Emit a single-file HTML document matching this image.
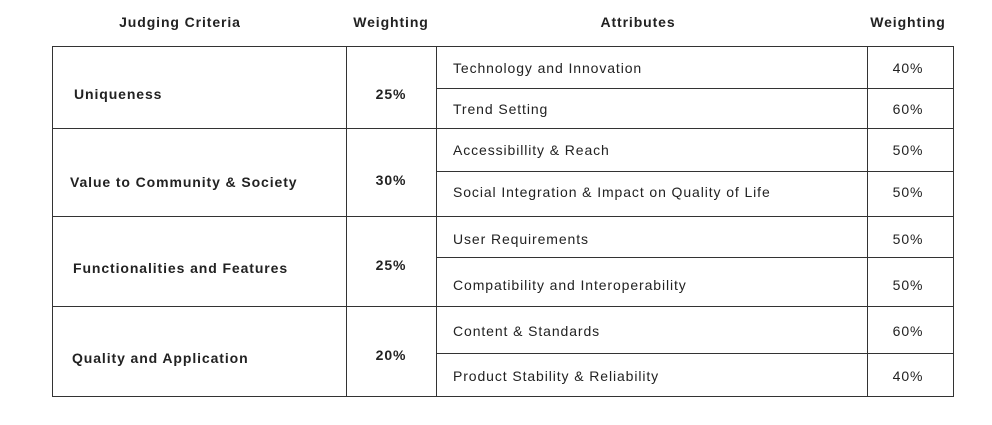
<!DOCTYPE html>
<html><head><meta charset="utf-8"><style>
body{margin:0;width:992px;height:425px;background:#fff;position:relative;overflow:hidden;font-family:"Liberation Sans",sans-serif;color:#222;}
.t{position:absolute;font-size:14px;letter-spacing:0.9px;line-height:16px;white-space:nowrap;transform:translateY(-50%);}
.b{font-weight:bold;}
.c{transform:translate(-50%,-50%);}
.h{position:absolute;height:1px;background:#333;}
.v{position:absolute;width:1px;background:#333;}
</style></head><body>
<div class="t b c" style="left:180px;top:22px">Judging Criteria</div>
<div class="t b c" style="left:391px;top:22px">Weighting</div>
<div class="t b c" style="left:638px;top:22px">Attributes</div>
<div class="t b c" style="left:908px;top:22px">Weighting</div>

<div>
<div class="h" style="left:52px;width:902px;top:46px"></div>
<div class="h" style="left:436px;width:518px;top:88px"></div>
<div class="h" style="left:52px;width:902px;top:128px"></div>
<div class="h" style="left:436px;width:518px;top:171px"></div>
<div class="h" style="left:52px;width:902px;top:216px"></div>
<div class="h" style="left:436px;width:518px;top:257px"></div>
<div class="h" style="left:52px;width:902px;top:306px"></div>
<div class="h" style="left:436px;width:518px;top:353px"></div>
<div class="h" style="left:52px;width:902px;top:396px"></div>
<div class="v" style="left:52px;top:46px;height:351px"></div>
<div class="v" style="left:346px;top:46px;height:351px"></div>
<div class="v" style="left:436px;top:46px;height:351px"></div>
<div class="v" style="left:867px;top:46px;height:351px"></div>
<div class="v" style="left:953px;top:46px;height:351px"></div>
</div>

<div class="t b" style="left:74px;top:94px">Uniqueness</div>
<div class="t b" style="left:70px;top:182px">Value to Community &amp; Society</div>
<div class="t b" style="left:73px;top:268px">Functionalities and Features</div>
<div class="t b" style="left:72px;top:358px">Quality and Application</div>

<div class="t b c" style="left:391px;top:94px">25%</div>
<div class="t b c" style="left:391px;top:180px">30%</div>
<div class="t b c" style="left:391px;top:265px">25%</div>
<div class="t b c" style="left:391px;top:355px">20%</div>

<div class="t" style="left:453px;top:68px">Technology and Innovation</div>
<div class="t" style="left:453px;top:109px">Trend Setting</div>
<div class="t" style="left:453px;top:150px">Accessibillity &amp; Reach</div>
<div class="t" style="left:453px;top:192px">Social Integration &amp; Impact on Quality of Life</div>
<div class="t" style="left:453px;top:239px">User Requirements</div>
<div class="t" style="left:453px;top:285px">Compatibility and Interoperability</div>
<div class="t" style="left:453px;top:331px">Content &amp; Standards</div>
<div class="t" style="left:453px;top:376px">Product Stability &amp; Reliability</div>

<div class="t c" style="left:908px;top:68px">40%</div>
<div class="t c" style="left:908px;top:109px">60%</div>
<div class="t c" style="left:908px;top:150px">50%</div>
<div class="t c" style="left:908px;top:192px">50%</div>
<div class="t c" style="left:908px;top:239px">50%</div>
<div class="t c" style="left:908px;top:285px">50%</div>
<div class="t c" style="left:908px;top:331px">60%</div>
<div class="t c" style="left:908px;top:376px">40%</div>
</body></html>
